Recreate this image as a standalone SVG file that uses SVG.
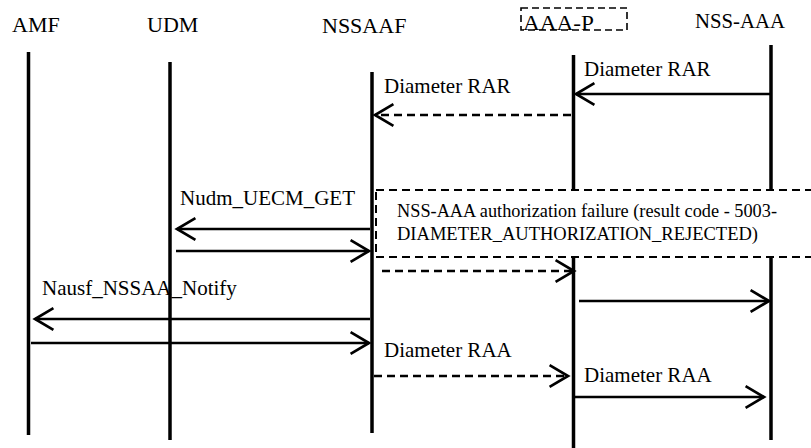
<svg xmlns="http://www.w3.org/2000/svg" width="811" height="448" viewBox="0 0 811 448">
<style>
text{font-family:'Liberation Serif','Times New Roman',Times,serif;fill:#000}
.hdr{font-size:22px}
.lbl{font-size:21px}
.box{font-size:18px}
.life{stroke:#000;stroke-width:3.5;fill:none}
.msg{stroke:#000;stroke-width:2.5;fill:none;marker-end:url(#arr)}
.dash{stroke-dasharray:8 5}
</style>
<defs>
<marker id="arr" markerUnits="userSpaceOnUse" markerWidth="24" markerHeight="26" viewBox="-19 -12 22 24" refX="0" refY="0" orient="auto">
<path d="M-17,-10 L0,0 L-17,10" fill="none" stroke="#000" stroke-width="2.5"/>
</marker>
</defs>
<g id="AMF">
<text class="hdr" x="12" y="32">AMF</text>
<line class="life" x1="28.5" y1="52" x2="28.5" y2="435"/>
</g>
<g id="UDM">
<text class="hdr" x="147" y="32">UDM</text>
<line class="life" x1="170" y1="62" x2="170" y2="440"/>
</g>
<g id="NSSAAF">
<text class="hdr" x="322" y="33">NSSAAF</text>
<line class="life" x1="372" y1="72" x2="372" y2="433"/>
</g>
<g id="AAA-P">
<rect x="521" y="8" width="106" height="22" fill="none" stroke="#000" stroke-width="1.6" stroke-dasharray="7 4"/>
<text x="523" y="30" font-size="21" textLength="71" lengthAdjust="spacingAndGlyphs">AAA-P</text>
<line class="life" x1="573.5" y1="55" x2="573.5" y2="448"/>
</g>
<g id="NSS-AAA">
<text x="695" y="28" font-size="21" textLength="90" lengthAdjust="spacingAndGlyphs">NSS-AAA</text>
<line class="life" x1="771" y1="45" x2="771" y2="440"/>
</g>
<g id="connectors">
<line class="msg" x1="771" y1="94" x2="576" y2="94"/>
<line class="msg dash" x1="571" y1="115" x2="375" y2="115"/>
<line class="msg" x1="370" y1="229" x2="177" y2="229"/>
<line class="msg" x1="176" y1="251" x2="369" y2="251"/>
<line class="msg dash" x1="382" y1="271" x2="574" y2="271"/>
<line class="msg" x1="579" y1="301" x2="769" y2="301"/>
<line class="msg" x1="370" y1="319" x2="35" y2="319"/>
<line class="msg" x1="31" y1="343" x2="369" y2="343"/>
<line class="msg dash" x1="374" y1="376" x2="568" y2="376"/>
<line class="msg" x1="575" y1="397" x2="764" y2="397"/>
</g>
<g id="labels">
<text class="lbl" x="584" y="76">Diameter RAR</text>
<text class="lbl" x="384" y="93">Diameter RAR</text>
<text class="lbl" x="180" y="205">Nudm_UECM_GET</text>
<text class="lbl" x="42" y="295">Nausf_NSSAA_Notify</text>
<text class="lbl" x="384" y="357">Diameter RAA</text>
<text class="lbl" x="584" y="382">Diameter RAA</text>
</g>
<g id="note">
<rect x="376" y="190" width="445" height="67" fill="#fff" stroke="#000" stroke-width="2" stroke-dasharray="8 5"/>
<text class="box" x="397" y="217" textLength="380" lengthAdjust="spacingAndGlyphs">NSS-AAA authorization failure (result code - 5003-</text>
<text class="box" x="397" y="240" textLength="361" lengthAdjust="spacingAndGlyphs">DIAMETER_AUTHORIZATION_REJECTED)</text>
</g>
</svg>
